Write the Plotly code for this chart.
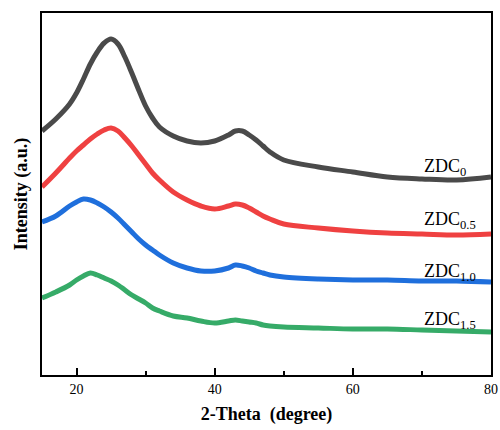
import plotly.graph_objects as go

# 2-theta grid (degree)
two_theta = [15, 17, 19, 20, 21, 22, 23, 24, 25, 26, 27, 28, 29, 30, 31, 32, 34, 36, 38,
             40, 42, 43, 44, 45, 46, 47, 48, 50, 55, 60, 65, 70, 75, 80]

# Intensity (a.u., stacked/offset as in the figure)
zdc_0 = [244, 256, 271, 282, 296, 311, 323, 332, 336, 331, 318, 302, 285, 269, 257, 248, 239,
         234, 232, 234, 240, 244, 244, 240, 235, 229, 223, 215, 208, 203, 198, 196, 195, 198]
zdc_05 = [188, 202, 217, 224, 230, 236, 241, 245, 247, 244, 237, 229, 220, 211, 202, 195, 183,
          175, 169, 166, 169, 171, 170, 167, 163, 159, 156, 151, 147, 144, 142, 141, 140, 141]
zdc_10 = [153, 159, 169, 173, 176, 175, 172, 168, 163, 157, 150, 143, 136, 130, 125, 120, 112,
          107, 104, 104, 107, 110, 109, 107, 104, 102, 100, 98, 96, 95, 95, 94, 94, 93]
zdc_15 = [77, 83, 90, 95, 99, 102, 100, 97, 94, 90, 85, 80, 76, 72, 67, 64, 59,
          57, 54, 52, 54, 55, 54, 53, 52, 50, 49, 48, 47, 46, 46, 45, 44, 43]

series = [
    ("ZDC<sub>0</sub>", zdc_0, "#4a4a4a", 208),
    ("ZDC<sub>0.5</sub>", zdc_05, "#ef4141", 155),
    ("ZDC<sub>1.0</sub>", zdc_10, "#1f6fdc", 103),
    ("ZDC<sub>1.5</sub>", zdc_15, "#36ab68", 55),
]

fig = go.Figure()
for name, vals, color, ly in series:
    fig.add_trace(go.Scatter(x=two_theta, y=vals, mode="lines", name=name,
                             line=dict(color=color, width=5, shape="spline", smoothing=1.0),
                             showlegend=False))
    fig.add_annotation(x=70, y=ly, text=name, showarrow=False, xanchor="left", yanchor="middle",
                       font=dict(family="Liberation Serif", size=18, color="black"))

fig.update_layout(
    width=500, height=430,
    margin=dict(l=42, r=9, t=13, b=55),
    paper_bgcolor="white", plot_bgcolor="white",
    font=dict(family="Liberation Serif", color="black"),
)
fig.update_xaxes(
    range=[15, 80], tick0=0, dtick=20, ticks="inside", ticklen=7, tickwidth=2, tickcolor="black",
    minor=dict(dtick=10, ticks="inside", ticklen=4, tickwidth=2, tickcolor="black"),
    showline=True, linecolor="black", linewidth=2, mirror=True, showgrid=False, zeroline=False,
    automargin=False,
    tickfont=dict(family="Liberation Serif", size=14, color="black"),
    title=dict(text="<b>2-Theta  (degree)</b>", font=dict(family="Liberation Serif", size=18), standoff=12),
)
fig.update_yaxes(
    range=[0, 362], showticklabels=False, ticks="", automargin=False,
    showline=True, linecolor="black", linewidth=2, mirror=True, showgrid=False, zeroline=False,
    title=dict(text="<b>Intensity (a.u.)</b>", font=dict(family="Liberation Serif", size=18), standoff=8),
)

fig.write_html("out.html")
